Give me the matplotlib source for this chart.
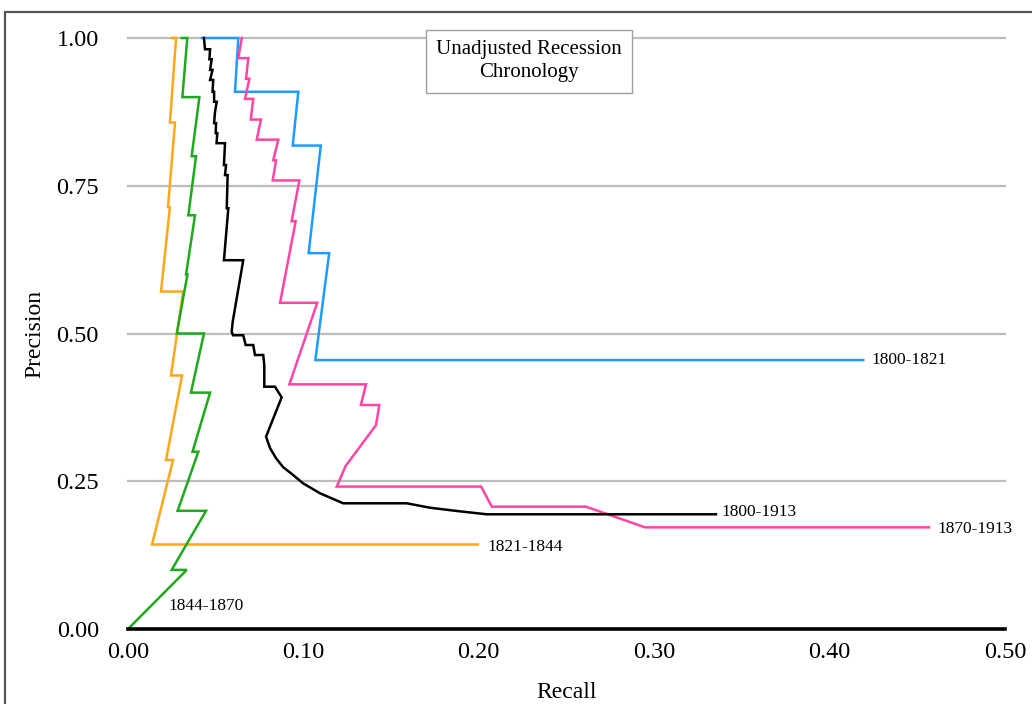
import matplotlib
matplotlib.use("Agg")
import matplotlib.pyplot as plt
from matplotlib.patches import Rectangle

# ---- precision / recall series by sub-period ----
recall_1800_1821 = [0.0422, 0.0629, 0.0610, 0.0971, 0.0939, 0.1099, 0.1030, 0.1147, 0.1068, 0.4192]
precision_1800_1821 = [1.0, 1.0, 0.909, 0.909, 0.818, 0.818, 0.636, 0.636, 0.455, 0.455]

recall_1821_1844 = [0.0251, 0.0274, 0.0239, 0.0268, 0.0228, 0.0239, 0.0188, 0.0314,
                    0.0245, 0.0308, 0.0217, 0.0257, 0.0137, 0.1995]
precision_1821_1844 = [1.0, 1.0, 0.857, 0.857, 0.714, 0.714, 0.571, 0.571,
                       0.429, 0.429, 0.286, 0.286, 0.143, 0.143]

recall_1844_1870 = [0.0306, 0.0338, 0.0310, 0.0407, 0.0363, 0.0388, 0.0344, 0.0382,
                    0.0331, 0.0339, 0.0278, 0.0433, 0.0359, 0.0468, 0.0368, 0.0401,
                    0.0283, 0.0445, 0.0249, 0.0335, 0.0]
precision_1844_1870 = [1.0, 1.0, 0.9, 0.9, 0.8, 0.8, 0.7, 0.7, 0.6, 0.6, 0.5, 0.5,
                       0.4, 0.4, 0.3, 0.3, 0.2, 0.2, 0.1, 0.1, 0.0]

recall_1870_1913 = [0.0649, 0.0629, 0.0686, 0.0673, 0.0692, 0.0667, 0.0714, 0.0700,
                    0.0758, 0.0734, 0.0857, 0.0828, 0.0844, 0.0825, 0.0977, 0.0933,
                    0.0956, 0.0867, 0.1079, 0.0920, 0.1357, 0.1328, 0.1433, 0.1414,
                    0.1241, 0.1190, 0.2013, 0.2074, 0.2611, 0.2948, 0.4567]
precision_1870_1913 = [1.0, 0.966, 0.966, 0.931, 0.931, 0.897, 0.897, 0.862,
                       0.862, 0.828, 0.828, 0.793, 0.793, 0.759, 0.759, 0.690,
                       0.690, 0.552, 0.552, 0.414, 0.414, 0.379, 0.379, 0.345,
                       0.276, 0.241, 0.241, 0.207, 0.207, 0.172, 0.172]

recall_1800_1913 = [0.0433, 0.0439, 0.0468, 0.0464, 0.0477, 0.0468, 0.0482, 0.0468,
                    0.0486, 0.0482, 0.0491, 0.0491, 0.0506, 0.0496, 0.0491, 0.0502,
                    0.0500, 0.0509, 0.0505, 0.0553, 0.0547, 0.0559, 0.0553, 0.0568,
                    0.0563, 0.0572, 0.0547, 0.0657, 0.0597, 0.0591, 0.0599, 0.0657,
                    0.0671, 0.0714, 0.0724, 0.0771, 0.0777, 0.0777, 0.0838, 0.0876,
                    0.0787, 0.0810, 0.0844, 0.0884, 0.0941, 0.0998, 0.1095, 0.1227,
                    0.1589, 0.1722, 0.1874, 0.2045, 0.3352]
precision_1800_1913 = [1.0, 0.981, 0.981, 0.964, 0.964, 0.946, 0.946, 0.929,
                       0.929, 0.909, 0.909, 0.892, 0.892, 0.875, 0.856, 0.856,
                       0.839, 0.839, 0.822, 0.822, 0.785, 0.785, 0.768, 0.768,
                       0.712, 0.712, 0.624, 0.624, 0.520, 0.503, 0.497, 0.497,
                       0.4805, 0.4805, 0.4636, 0.4636, 0.4467, 0.410, 0.410, 0.392,
                       0.3254, 0.306, 0.289, 0.274, 0.2606, 0.2465, 0.2296, 0.2127,
                       0.2127, 0.2052, 0.1997, 0.1941, 0.1941]

series = [
    ("1800-1821", recall_1800_1821, precision_1800_1821, "#1E9BFF", (0.0046, 0.0)),
    ("1821-1844", recall_1821_1844, precision_1821_1844, "#FFA71A", (0.0057, -0.004)),
    ("1870-1913", recall_1870_1913, precision_1870_1913, "#FF45A5", (0.0046, -0.002)),
    ("1800-1913", recall_1800_1913, precision_1800_1913, "#000000", (0.0030, 0.004)),
    ("1844-1870", recall_1844_1870, precision_1844_1870, "#1DAA1D", None),
]

x_ticks = [0.0, 0.1, 0.2, 0.3, 0.4, 0.5]
y_ticks = [0.0, 0.25, 0.5, 0.75, 1.0]

serif = ["Liberation Serif", "DejaVu Serif"]
plt.rcParams["font.family"] = serif

fig = plt.figure(figsize=(10.32, 7.04), dpi=100)
ax = fig.add_axes([128 / 1032, 1 - 629 / 704, (1005 - 128) / 1032, (629 - 38) / 704])

# outer frame around the whole figure
fig.patches.append(Rectangle((5 / 1032, -0.05), 1.2, (704 - 12) / 704 + 0.05,
                             transform=fig.transFigure, fill=False,
                             edgecolor="#555555", linewidth=1.6, zorder=0))

ax.set_xlim(0, 0.5)
ax.set_ylim(0, 1)

for yv in y_ticks[1:]:
    ax.axhline(yv, color="#BDBDBD", linewidth=1.6, zorder=1, clip_on=False)

for name, rec, prec, col, off in series:
    ax.plot(rec, prec, color=col, linewidth=1.8, zorder=3, clip_on=False,
            solid_joinstyle="miter")
    if off is not None:
        ax.text(rec[-1] + off[0], prec[-1] + off[1], name, fontsize=12.5,
                ha="left", va="center", color="black", zorder=4)

ax.text(0.0228, 0.039, "1844-1870", fontsize=12.5, ha="left", va="center", zorder=4)

ax.text(0.2286, 0.961, "Unadjusted Recession\nChronology", fontsize=15,
        ha="center", va="center", linespacing=1.3, zorder=5,
        bbox=dict(boxstyle="square,pad=0.5", facecolor="white",
                  edgecolor="#A0A0A0", linewidth=1.0))

for side in ["top", "right", "left"]:
    ax.spines[side].set_visible(False)
ax.spines["bottom"].set_color("black")
ax.spines["bottom"].set_linewidth(2.6)
ax.spines["bottom"].set_zorder(6)

ax.set_xticks(x_ticks)
ax.set_xticklabels([f"{v:.2f}" for v in x_ticks])
ax.set_yticks(y_ticks)
ax.set_yticklabels([f"{v:.2f}" for v in y_ticks])
ax.tick_params(axis="x", length=0, pad=9, labelsize=17.5)
ax.tick_params(axis="y", length=0, pad=21, labelsize=17.5)

ax.set_xlabel("Recall", fontsize=17, labelpad=14)
ax.set_ylabel("Precision", fontsize=17, labelpad=8)

fig.savefig("out.png", dpi=100)
